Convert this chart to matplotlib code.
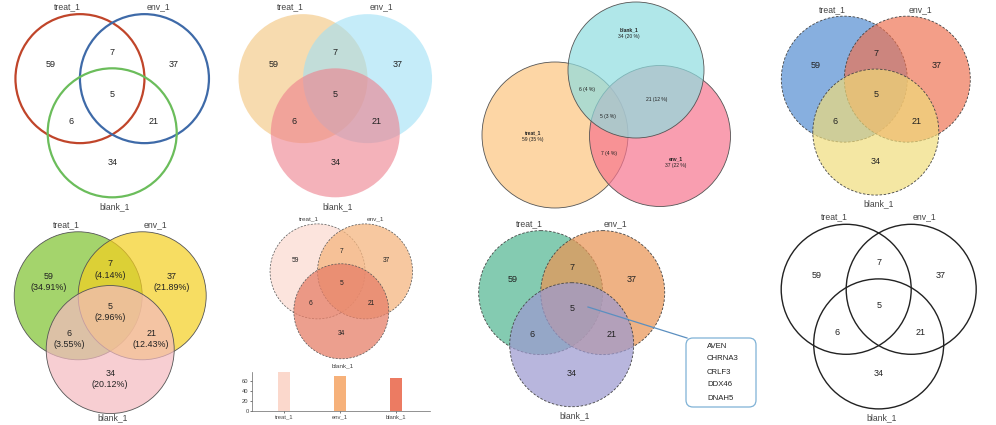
import matplotlib
matplotlib.use('Agg')
import matplotlib.pyplot as plt
from matplotlib.patches import Circle, FancyBboxPatch
from matplotlib.colors import to_rgba

plt.rcParams['font.family'] = ['Liberation Sans', 'DejaVu Sans']

set_names = ['treat_1', 'env_1', 'blank_1']
# regions: treat only, env only, blank only, treat&env, treat&blank, env&blank, all three
region_counts = [59, 37, 34, 7, 6, 21, 5]
shared_genes = ['AVEN', 'CHRNA3', 'CRLF3', 'DDX46', 'DNAH5']

total = sum(region_counts)
set_sizes = [region_counts[0] + region_counts[3] + region_counts[4] + region_counts[6],
             region_counts[1] + region_counts[3] + region_counts[5] + region_counts[6],
             region_counts[2] + region_counts[4] + region_counts[5] + region_counts[6]]

fig = plt.figure(figsize=(9.96, 4.25), dpi=100)
ax = fig.add_axes([0, 0, 1, 1])
ax.set_xlim(0, 996)
ax.set_ylim(425, 0)
ax.axis('off')

# layout of a symmetric 3-set diagram, in units of the radius
circle_off = [(-0.5, -0.28), (0.5, -0.28), (0.0, 0.56)]
region_off = [(-0.96, -0.5), (0.96, -0.5), (0.0, 1.02), (0.0, -0.69),
              (-0.64, 0.39), (0.64, 0.39), (0.0, -0.03)]
name_off = [(-0.69, -1.39), (0.71, -1.39), (0.04, 1.7)]


def venn3(cx, cy, r, faces, edges, alpha=0.6, ls='-', lw=0.7, fs=6.5, nfs=6.2,
          pct=False, bottom_name=1.7):
    for (dx, dy), fc, ec in zip(circle_off, faces, edges):
        fcol = to_rgba(fc, alpha) if fc != 'none' else 'none'
        ax.add_patch(Circle((cx + dx * r, cy + dy * r), r, facecolor=fcol,
                            edgecolor=ec, linestyle=ls, linewidth=lw))
    for (dx, dy), n in zip(region_off, region_counts):
        s = str(n)
        if pct:
            s = '%d\n(%.2f%%)' % (n, 100.0 * n / total)
        ax.text(cx + dx * r, cy + dy * r, s, ha='center', va='center', fontsize=fs,
                color='#222222', linespacing=1.3)
    for i, ((dx, dy), name) in enumerate(zip(name_off, set_names)):
        if i == 2:
            dy = bottom_name
        ax.text(cx + dx * r, cy + dy * r, name, ha='center', va='center', fontsize=nfs,
                color='#444444')


# top row
venn3(112.2, 96.7, 64.5, ['none'] * 3, ['#c0452a', '#3e6aa8', '#6bbd5b'], lw=1.6)
venn3(335.3, 96.7, 64.5, ['#f3c37a', '#9fe0f6', '#ee7f8c'], ['none'] * 3, alpha=0.6, lw=0)
venn3(875.8, 96.8, 63, ['#4f8ad0', '#ee7150', '#f0dc78'], ['#444444'] * 3,
      alpha=0.68, ls=(0, (3, 2)), lw=0.6)

# proportional diagram (panel 3)
p3_centers = [(555, 135, 73), (660, 136, 70.5), (636, 70, 68)]
p3_faces = ['#fdc57f', '#f7758f', '#8fdde0']
for (x, y, r), fc in zip(p3_centers, p3_faces):
    ax.add_patch(Circle((x, y), r, facecolor=to_rgba(fc, 0.7), edgecolor='#555555', lw=0.6))
p3_name_pos = [(533, 133), (676, 159), (629, 30)]
for (x, y), name, n in zip(p3_name_pos, set_names, region_counts[:3]):
    ax.text(x, y, name, ha='center', va='center', fontsize=3.6, fontweight='bold', color='#222222')
    ax.text(x, y + 6.5, '%d (%d %%)' % (n, round(100.0 * n / total)), ha='center', va='center',
            fontsize=3.6, color='#222222')
p3_region_pos = [(609, 153), (587, 89), (657, 99), (608, 116)]
for (x, y), n in zip(p3_region_pos, region_counts[3:]):
    ax.text(x, y, '%d (%d %%)' % (n, round(100.0 * n / total)), ha='center', va='center',
            fontsize=3.6, color='#222222')

# bottom row
venn3(110.2, 313.7, 64, ['#7ec22e', '#f5cf1f', '#f4bac0'], ['#555555'] * 3,
      alpha=0.7, lw=0.6, fs=6.4, pct=True, bottom_name=1.63)
venn3(341.3, 284.7, 47.5, ['#fbdcd2', '#f5b680', '#e67f68'], ['#555555'] * 3,
      alpha=0.75, ls=(0, (3, 2)), lw=0.5, fs=4.8, nfs=4.6)
venn3(571.7, 310, 62, ['#55b893', '#ea9555', '#9d9ad0'], ['#444444'] * 3,
      alpha=0.72, ls=(0, (3, 2)), lw=0.6)
venn3(878.7, 307.5, 65, ['none'] * 3, ['#222222'] * 3, lw=1.0)

# callout for shared genes
ax.plot([588, 687], [307, 338], color='#5b8fc0', lw=0.9)
ax.add_patch(FancyBboxPatch((686, 338), 70, 69, boxstyle='round,pad=0,rounding_size=7',
                            facecolor='white', edgecolor='#7fb2d6', lw=0.9))
for i, g in enumerate(shared_genes):
    ax.text(707, 346 + 13 * i, g, ha='left', va='center', fontsize=5.6, color='#222222')

# set size bars under panel 6
bax = fig.add_axes([252 / 996, 1 - 411 / 425, (430 - 252) / 996, (411 - 372) / 425])
bax.bar(range(3), set_sizes, width=0.21, color=['#fbd8cc', '#f6b17a', '#ec7b62'])
bax.set_xlim(-0.57, 2.6)
bax.set_ylim(0, 77)
bax.set_yticks([0, 20, 40, 60])
bax.set_xticks(range(3))
bax.set_xticklabels(set_names)
bax.tick_params(labelsize=4.2, length=1.5, width=0.5, pad=1, colors='#444444')
for s in ['top', 'right']:
    bax.spines[s].set_visible(False)
for s in ['left', 'bottom']:
    bax.spines[s].set_linewidth(0.5)
    bax.spines[s].set_color('#666666')
bax.patch.set_alpha(0)

fig.savefig('out.png', dpi=100)
